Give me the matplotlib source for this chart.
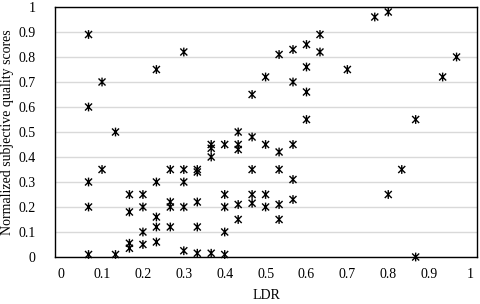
import matplotlib
matplotlib.use("Agg")
import matplotlib.pyplot as plt
from matplotlib.path import Path
import numpy as np

plt.rcParams['font.family'] = ['Liberation Serif', 'DejaVu Serif']

# Data: LDR (x) and normalized subjective quality scores (y)
ldr = [
    0.067, 0.067, 0.067, 0.067, 0.067,
    0.1, 0.1,
    0.133, 0.133,
    0.167, 0.167, 0.167, 0.167,
    0.2, 0.2, 0.2, 0.2,
    0.233, 0.233, 0.233, 0.233, 0.233,
    0.267, 0.267, 0.267, 0.267,
    0.3, 0.3, 0.3, 0.3, 0.3,
    0.333, 0.333, 0.333, 0.333, 0.333,
    0.367, 0.367, 0.367, 0.367,
    0.4, 0.4, 0.4, 0.4, 0.4,
    0.433, 0.433, 0.433, 0.433, 0.433,
    0.467, 0.467, 0.467, 0.467, 0.467,
    0.5, 0.5, 0.5, 0.5,
    0.533, 0.533, 0.533, 0.533, 0.533,
    0.567, 0.567, 0.567, 0.567, 0.567,
    0.6, 0.6, 0.6, 0.6,
    0.633, 0.633,
    0.7,
    0.767,
    0.8, 0.8,
    0.833,
    0.867, 0.867,
    0.933,
    0.967,
]
scores = [
    0.89, 0.60, 0.30, 0.20, 0.01,
    0.70, 0.35,
    0.50, 0.01,
    0.25, 0.18, 0.055, 0.035,
    0.25, 0.20, 0.10, 0.05,
    0.75, 0.30, 0.16, 0.12, 0.06,
    0.35, 0.22, 0.20, 0.12,
    0.82, 0.35, 0.30, 0.20, 0.025,
    0.35, 0.34, 0.22, 0.12, 0.015,
    0.45, 0.435, 0.40, 0.015,
    0.45, 0.25, 0.20, 0.10, 0.01,
    0.50, 0.45, 0.43, 0.21, 0.15,
    0.65, 0.48, 0.35, 0.25, 0.215,
    0.72, 0.45, 0.25, 0.20,
    0.81, 0.42, 0.35, 0.21, 0.15,
    0.83, 0.70, 0.45, 0.31, 0.23,
    0.85, 0.76, 0.66, 0.55,
    0.89, 0.82,
    0.75,
    0.96,
    0.98, 0.25,
    0.35,
    0.55, 0.0,
    0.72,
    0.80,
]

# star marker: vertical bar plus an X
verts = [(0, -1), (0, 1), (-0.8, -0.8), (0.8, 0.8), (-0.8, 0.8), (0.8, -0.8)]
codes = [Path.MOVETO, Path.LINETO] * 3
star = Path(verts, codes)

fig = plt.figure(figsize=(4.8, 3.04), dpi=100)
ax = fig.add_axes([55/480, 1 - 257/304, (477 - 55)/480, (257 - 7)/304])

ax.scatter(ldr, scores, marker=star, s=40, facecolors='none',
           edgecolors='black', linewidths=1.0, zorder=3, clip_on=False)

ticklabels = ['0', '0.1', '0.2', '0.3', '0.4', '0.5', '0.6', '0.7', '0.8', '0.9', '1']
ax.set_xlim(-0.015, 1.017)
ax.set_ylim(0, 1)
ax.set_xticks(np.round(np.arange(0, 1.01, 0.1), 1))
ax.set_xticklabels(ticklabels)
ax.set_yticks(np.round(np.arange(0, 1.01, 0.1), 1))
ax.set_yticklabels(ticklabels)
ax.tick_params(axis='both', length=0, labelsize=10)
ax.tick_params(axis='x', pad=8)
ax.tick_params(axis='y', pad=14)
ax.yaxis.grid(True, color='#d9d9d9', linewidth=1.0)
ax.set_axisbelow(True)
for s in ax.spines.values():
    s.set_color('black')
    s.set_linewidth(1.0)

ax.set_xlabel('LDR', fontsize=10, labelpad=6)
ax.set_ylabel('Normalized subjective quality scores', fontsize=10, labelpad=3)

fig.savefig('out.png', dpi=100)
